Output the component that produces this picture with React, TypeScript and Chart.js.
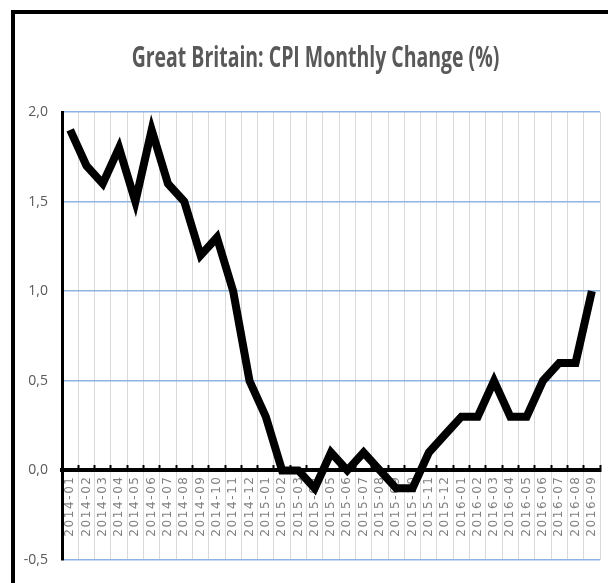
import React, { useEffect, useRef } from "react";
import { Chart, registerables } from "chart.js";

Chart.register(...registerables);

const categories: string[] = [
  "2014-01", "2014-02", "2014-03", "2014-04", "2014-05", "2014-06",
  "2014-07", "2014-08", "2014-09", "2014-10", "2014-11", "2014-12",
  "2015-01", "2015-02", "2015-03", "2015-04", "2015-05", "2015-06",
  "2015-07", "2015-08", "2015-09", "2015-10", "2015-11", "2015-12",
  "2016-01", "2016-02", "2016-03", "2016-04", "2016-05", "2016-06",
  "2016-07", "2016-08", "2016-09",
];

const cpiChange: number[] = [
  1.9, 1.7, 1.6, 1.8, 1.5, 1.9, 1.6, 1.5, 1.2, 1.3, 1.0, 0.5,
  0.3, 0.0, 0.0, -0.1, 0.1, 0.0, 0.1, 0.0, -0.1, -0.1, 0.1, 0.2,
  0.3, 0.3, 0.5, 0.3, 0.3, 0.5, 0.6, 0.6, 1.0,
];

const yMin = -0.5;
const yMax = 2.0;
const yStep = 0.5;

const titleText = "Great Britain: CPI Monthly Change (%)";

const spacedLabels = {
  id: "spacedLabels",
  afterLayout(chart: any) {
    const s = chart.scales.x;
    if (!s || s.__spaced) return;
    const orig = s.drawLabels.bind(s);
    s.drawLabels = (area: any) => {
      const c = s.ctx;
      c.save();
      try {
        c.letterSpacing = "1.6px";
      } catch (e) {}
      orig(area);
      c.restore();
    };
    s.__spaced = true;
  },
};

export default function App() {
  const canvasRef = useRef<HTMLCanvasElement | null>(null);

  useEffect(() => {
    const canvas = canvasRef.current;
    if (!canvas) return;
    const chart = new Chart(canvas, {
      type: "line",
      data: {
        labels: categories,
        datasets: [
          {
            data: cpiChange,
            borderColor: "#000000",
            borderWidth: 8,
            pointRadius: 0,
            tension: 0,
            fill: false,
            borderJoinStyle: "miter",
          },
        ],
      },
      options: {
        responsive: false,
        animation: false,
        layout: { padding: { left: 0, right: 8, top: 112, bottom: 23 } },
        plugins: {
          legend: { display: false },
          tooltip: { enabled: false },
          title: { display: false },
        },
        scales: {
          x: {
            type: "category",
            position: { y: 0 } as any,
            offset: true,
            afterFit: (scale: any) => {
              scale.paddingLeft = 0;
              scale.paddingRight = 0;
            },
            grid: {
              offset: true,
              color: "#d9d9d9",
              lineWidth: 1,
              drawTicks: true,
              tickLength: -7,
              tickColor: "#000000",
              tickWidth: 2,
            },
            border: { display: true, color: "#000000", width: 4 },
            ticks: {
              autoSkip: false,
              maxRotation: 90,
              minRotation: 90,
              color: "#808080",
              padding: 12,
              font: { family: "'DejaVu Sans', sans-serif", size: 12 },
            },
          },
          y: {
            min: yMin,
            max: yMax,
            afterFit: (scale: any) => {
              scale.width = 62;
            },
            ticks: {
              stepSize: yStep,
              color: "#595959",
              padding: 14,
              font: { family: "'Open Sans', sans-serif", size: 14 },
              callback: (v: any) => Number(v).toFixed(1).replace(".", ","),
            },
            grid: {
              drawTicks: false,
              lineWidth: 1.5,
              color: (ctx: any) =>
                ctx.tick && ctx.tick.value === 0 ? "rgba(0,0,0,0)" : "#8db3e2",
            },
            border: { display: true, color: "#000000", width: 3 },
          },
        },
      },
      plugins: [spacedLabels],
    });
    return () => chart.destroy();
  }, []);

  return (
    <div
      style={{
        position: "fixed",
        left: 0,
        top: 0,
        width: 608,
        height: 583,
        background: "#ffffff",
        overflow: "hidden",
      }}
    >
      <canvas ref={canvasRef} width={608} height={583} style={{ display: "block" }} />
      <div
        style={{
          position: "absolute",
          left: 0,
          width: 631,
          top: 42,
          textAlign: "center",
          fontFamily: "'Open Sans', sans-serif",
          fontWeight: 700,
          fontSize: 28,
          lineHeight: "28px",
          color: "#595959",
          whiteSpace: "nowrap",
          transform: "scaleX(0.695)",
          transformOrigin: "315.5px 50%",
        }}
      >
        {titleText}
      </div>
      <div
        style={{
          position: "absolute",
          left: 11,
          top: 10,
          width: 700,
          height: 700,
          borderLeft: "4px solid #000",
          borderTop: "4px solid #000",
          pointerEvents: "none",
        }}
      />
    </div>
  );
}
